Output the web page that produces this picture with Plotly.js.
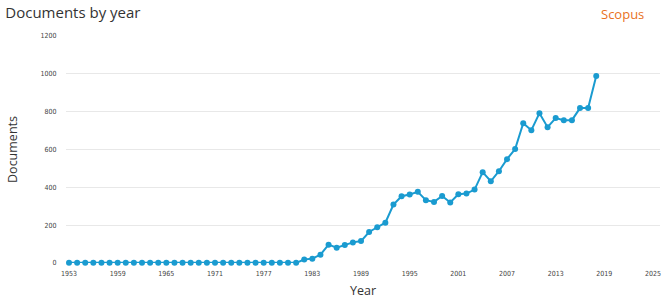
<!DOCTYPE html>
<html>
<head>
<meta charset="utf-8">
<script src="https://cdn.plot.ly/plotly-3.0.1.min.js"></script>
<style>html,body{margin:0;padding:0;background:#fff;}#chart{width:665px;height:308px;}</style>
</head>
<body>
<div id="chart"></div>
<script>
const years = [1953,1954,1955,1956,1957,1958,1959,1960,1961,1962,1963,1964,1965,1966,1967,1968,1969,1970,
  1971,1972,1973,1974,1975,1976,1977,1978,1979,1980,1981,1982,1983,1984,1985,1986,1987,1988,1989,1990,
  1991,1992,1993,1994,1995,1996,1997,1998,1999,2000,2001,2002,2003,2004,2005,2006,2007,2008,2009,2010,
  2011,2012,2013,2014,2015,2016,2017,2018];
const documents = [1,1,1,1,1,1,1,1,1,1,1,1,1,1,1,1,1,1,
  1,1,1,1,1,1,1,1,1,1,1,18,23,44,97,81,95,109,116,164,
  189,213,309,353,362,376,332,323,354,320,363,367,388,480,432,485,549,602,739,702,
  792,718,766,755,755,819,819,988];
const xTicks = [1953,1959,1965,1971,1977,1983,1989,1995,2001,2007,2013,2019,2025];
const yTicks = [0,200,400,600,800,1000,1200];

const tickFont = {family: 'DejaVu Sans Condensed, DejaVu Sans, sans-serif', size: 7, color: '#444'};
const trace = {
  x: years, y: documents, type: 'scatter', mode: 'lines+markers',
  line: {color: '#1a9bd0', width: 2},
  marker: {color: '#1a9bd0', size: 6},
  cliponaxis: false, hoverinfo: 'x+y'
};
const layout = {
  width: 665, height: 308,
  margin: {l: 66, r: 5, t: 36, b: 45.3},
  paper_bgcolor: '#fff', plot_bgcolor: '#fff',
  showlegend: false,
  xaxis: {
    range: [1952.63, 2025.86], tickvals: xTicks, ticktext: xTicks.map(String),
    tickfont: tickFont, showgrid: false, zeroline: false, showline: false,
    ticks: 'outside', ticklen: 4, tickcolor: 'rgba(0,0,0,0)', tickangle: 0,
    title: {text: 'Year', font: {family: 'Open Sans, sans-serif', size: 12.5, color: '#333'}, standoff: 8}
  },
  yaxis: {
    range: [0, 1200], tickvals: yTicks, ticktext: yTicks.map(String),
    tickfont: tickFont, showgrid: true, gridcolor: '#e8e8e8', gridwidth: 1,
    zeroline: false, showline: false, ticks: 'outside', ticklen: 7, tickcolor: 'rgba(0,0,0,0)',
    title: {text: 'Documents', font: {family: 'Open Sans, sans-serif', size: 12.5, color: '#333'}, standoff: 20}
  },
  title: {text: 'Documents by year', x: 0.008, xanchor: 'left', y: 0.96, yanchor: 'middle',
    font: {family: 'Open Sans, sans-serif', size: 15, color: '#333'}},
  annotations: [{
    text: 'Scopus', xref: 'paper', yref: 'paper', x: 0, y: 0, showarrow: false,
    xanchor: 'center', yanchor: 'middle',
    font: {family: 'Open Sans, sans-serif', size: 13, color: '#e9711c'}
  }]
};
const pw = 665 - 66 - 5, ph = 308 - 36 - 45.3;
layout.annotations[0].x = (622 - 66) / pw;
layout.annotations[0].y = (308 - 45.3 - 14) / ph;
Plotly.newPlot('chart', [trace], layout, {displayModeBar: false, staticPlot: true});
</script>
</body>
</html>
